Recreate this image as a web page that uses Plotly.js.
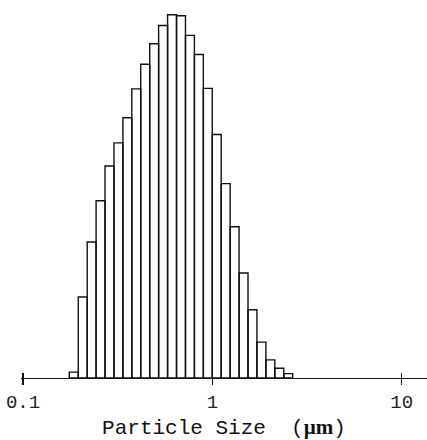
<!DOCTYPE html>
<html>
<head>
<meta charset="utf-8">
<script src="https://cdn.plot.ly/plotly-3.0.1.min.js"></script>
<style>
html,body{margin:0;padding:0;background:#fff;}
#chart{width:427px;height:440px;}
</style>
</head>
<body>
<div id="chart"></div>
<script>
// Bin edges (µm)
var binEdges = [0.1755, 0.1957, 0.2182, 0.2431, 0.2710, 0.3021, 0.3368, 0.3754, 0.4184,
  0.4667, 0.5201, 0.5799, 0.6465, 0.7208, 0.8035, 0.8957, 0.9984, 1.113, 1.241,
  1.383, 1.542, 1.719, 1.917, 2.136, 2.382, 2.655];
// Relative frequency (%) per bin
var freqPct = [0.12, 1.65, 2.77, 3.61, 4.32, 4.79, 5.30, 5.89, 6.39, 6.81, 7.18, 7.40,
  7.38, 6.98, 6.59, 5.90, 4.96, 3.96, 3.08, 2.14, 1.39, 0.73, 0.37, 0.20, 0.09];
var tickVals = [0.1, 1, 10];
var tickText = ["0.1", "1", "10"];
var crossTickVals = [0.1, 10];
var xTitle = "Particle Size  (<span style='font-family:\"Liberation Serif\",serif;font-weight:bold'>µm</span>)";

// build closed rectangles for each bin
var px = [], py = [];
for (var i = 0; i < freqPct.length; i++) {
  px.push(binEdges[i], binEdges[i], binEdges[i+1], binEdges[i+1], binEdges[i], null);
  py.push(0, freqPct[i], freqPct[i], 0, 0, null);
}

var trace = {
  x: px, y: py, type: 'scatter', mode: 'lines',
  fill: 'toself', fillcolor: '#ffffff',
  line: {color: '#111111', width: 1.4},
  hoverinfo: 'skip', showlegend: false
};
var helper = {
  x: [1], y: [0], xaxis: 'x2', type: 'scatter', mode: 'markers',
  marker: {opacity: 0, size: 1}, hoverinfo: 'skip', showlegend: false
};

var xr = [-1.0108, 1.1334];
var layout = {
  width: 427, height: 440,
  margin: {l: 21, r: 0, t: 0, b: 62},
  paper_bgcolor: '#ffffff', plot_bgcolor: '#ffffff',
  showlegend: false,
  xaxis: {
    type: 'log', range: xr,
    tickvals: tickVals, ticktext: tickText,
    ticks: 'outside', ticklen: 6, tickwidth: 1.3, tickcolor: '#111',
    showline: true, linecolor: '#111', linewidth: 1.3,
    showgrid: false, zeroline: false,
    tickfont: {family: '"Liberation Mono", "Courier New", monospace', size: 19, color: '#222'},
    title: {text: xTitle, standoff: 7,
      font: {family: '"Liberation Mono", "Courier New", monospace', size: 21, color: '#111'}},
    automargin: false, fixedrange: true
  },
  xaxis2: {
    type: 'log', range: xr, overlaying: 'x', anchor: 'y', side: 'bottom',
    tickvals: crossTickVals, ticks: 'inside', ticklen: 5, tickwidth: 1.3, tickcolor: '#111',
    showticklabels: false, showline: false, showgrid: false, zeroline: false, fixedrange: true
  },
  yaxis: {range: [0, 7.70], visible: false, fixedrange: true}
};

Plotly.newPlot('chart', [trace, helper], layout, {displayModeBar: false, staticPlot: true});
</script>
</body>
</html>
